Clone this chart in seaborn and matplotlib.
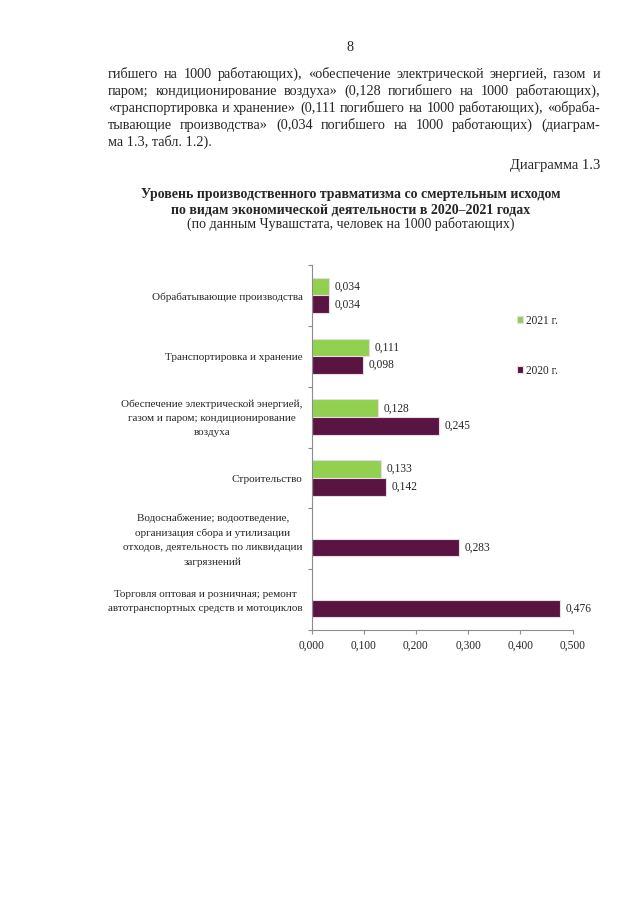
import pandas as pd
import numpy as np
import matplotlib
matplotlib.use("Agg")
import matplotlib.pyplot as plt
import matplotlib.transforms as mtransforms
import seaborn as sns

# --- данные диаграммы 1.3 ---
categories = [
    "Обрабатывающие производства",
    "Транспортировка и хранение",
    "Обеспечение электрической энергией,\nгазом и паром; кондиционирование\nвоздуха",
    "Строительство",
    "Водоснабжение; водоотведение,\nорганизация сбора и утилизации\nотходов, деятельность по ликвидации\nзагрязнений",
    "Торговля оптовая и розничная; ремонт\nавтотранспортных средств и мотоциклов",
]
values_2021 = [0.034, 0.111, 0.128, 0.133, np.nan, np.nan]
values_2020 = [0.034, 0.098, 0.245, 0.142, 0.283, 0.476]
years = ["2021 г.", "2020 г."]
x_ticks = [0.0, 0.1, 0.2, 0.3, 0.4, 0.5]

body_lines = [
    "гибшего на 1000 работающих), «обеспечение электрической энергией, газом и",
    "паром; кондиционирование воздуха» (0,128 погибшего на 1000 работающих),",
    "«транспортировка и хранение» (0,111 погибшего на 1000 работающих), «обраба-",
    "тывающие производства» (0,034 погибшего на 1000 работающих) (диаграм-",
    "ма 1.3, табл. 1.2).",
]

df = pd.DataFrame({
    "cat": categories * 2,
    "year": [years[0]] * len(categories) + [years[1]] * len(categories),
    "value": values_2021 + values_2020,
})

sns.set_style("white")
plt.rcParams["font.family"] = ["Liberation Serif", "DejaVu Serif"]

W, H = 640, 905
fig = plt.figure(figsize=(6.4, 9.05), dpi=100)
renderer = fig.canvas.get_renderer()


def fx(px):
    return px / W


def fy(py):
    return 1 - py / H


BODY = 10.3

# номер страницы
fig.text(fx(350), fy(51), "8", ha="center", va="baseline", fontsize=BODY)

# текст страницы, выровненный по ширине
x_left, x_right = 108, 600
for i, line in enumerate(body_lines):
    yb = 78 + i * 17
    if i == len(body_lines) - 1:
        fig.text(fx(x_left), fy(yb), line, ha="left", va="baseline", fontsize=BODY)
        continue
    words = line.split(" ")
    txts = [fig.text(0, 0, w, ha="left", va="baseline", fontsize=BODY) for w in words]
    widths = [t.get_window_extent(renderer).width for t in txts]
    gap = (x_right - x_left - sum(widths)) / (len(words) - 1)
    x = x_left
    for t, w in zip(txts, widths):
        t.set_position((fx(x), fy(yb)))
        x += w + gap

fig.text(fx(600), fy(169), "Диаграмма 1.3", ha="right", va="baseline", fontsize=10.5)

# заголовок
fig.text(fx(351), fy(198), "Уровень производственного травматизма со смертельным исходом",
         ha="center", va="baseline", fontsize=10.0, fontweight="bold")
fig.text(fx(351), fy(213), "по видам экономической деятельности в 2020–2021 годах",
         ha="center", va="baseline", fontsize=10.0, fontweight="bold")
fig.text(fx(351), fy(228), "(по данным Чувашстата, человек на 1000 работающих)",
         ha="center", va="baseline", fontsize=10.0)

# диаграмма
ax = fig.add_axes([fx(311.5), fy(630), (572.5 - 311.5) / W, (630 - 265) / H])
sns.barplot(data=df, y="cat", x="value", hue="year", hue_order=years,
            order=categories, orient="h", palette=["#92D050", "#5A1442"],
            saturation=1, width=0.58, edgecolor="#e6dde2", linewidth=0.8, ax=ax)

for c in ax.containers:
    ax.bar_label(c, fmt=lambda v: f"{v:.3f}".replace(".", ","), padding=4, fontsize=8.3)

ax.set_xlim(0, 0.5)
ax.set_ylim(len(categories) - 0.5, -0.5)
ax.set_xticks(x_ticks)
ax.set_xticklabels([f"{v:.3f}".replace(".", ",") for v in x_ticks], fontsize=8.3)
ax.set_yticks([])
ax.set_yticks(np.arange(-0.5, len(categories), 1.0), minor=True)
ax.tick_params(axis="y", which="minor", length=3, width=0.8, color="#8c8c8c", direction="out", left=True)
ax.tick_params(axis="x", which="major", length=3, width=0.8, color="#8c8c8c", direction="out", bottom=True, pad=4)
ax.set_xlabel("")
ax.set_ylabel("")

# подписи категорий (многострочные, по центру)
trans = mtransforms.offset_copy(
    mtransforms.blended_transform_factory(ax.transAxes, ax.transData),
    fig=fig, x=-9, y=-1.5, units="dots")
for i, cat in enumerate(categories):
    ax.text(0, i, cat, transform=trans, ha="right", va="center",
            multialignment="center", linespacing=1.72, fontsize=8.0)

for s in ["top", "right"]:
    ax.spines[s].set_visible(False)
for s in ["left", "bottom"]:
    ax.spines[s].set_color("#8c8c8c")
    ax.spines[s].set_linewidth(0.8)

handles, labels = ax.get_legend_handles_labels()
ax.legend(handles, labels, loc="upper left", bbox_to_anchor=(fx(511), fy(309)),
          bbox_transform=fig.transFigure, frameon=False, borderpad=0,
          handlelength=0.55, handleheight=0.55, handletextpad=0.25,
          labelspacing=3.3, fontsize=8.3)

fig.savefig("out.png", dpi=100)
